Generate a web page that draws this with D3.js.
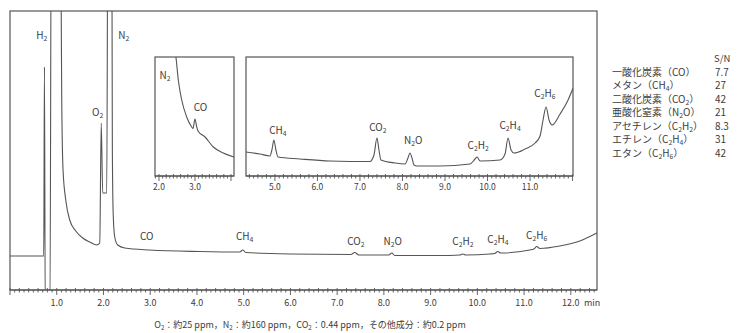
<!DOCTYPE html>
<html><head><meta charset="utf-8">
<script src="https://cdn.jsdelivr.net/npm/d3@7"></script>
<style>
html,body{margin:0;padding:0;background:#fff;}
svg{display:block;font-family:"Noto Sans CJK JP","Noto Sans",sans-serif;}
</style></head><body>
<svg id="chart" width="739" height="333"></svg>
<script>
// ---- Full chromatogram (retention time in min, detector signal in arbitrary units) ----
const mainTime = [0, 0.722, 0.737, 0.754, 0.855, 0.885, 1.075, 1.096, 1.107, 1.135, 1.193, 1.278, 1.407, 1.556, 1.706, 1.856,
  1.92, 1.952, 1.984, 2.07, 2.095, 2.15, 2.177, 2.19, 2.209, 2.241, 2.305, 2.455, 2.99, 4.06, 4.916, 4.98, 5.045, 5.986,
  7.292, 7.377, 7.463, 8.105, 8.169, 8.233, 9.196, 9.624, 9.688, 9.752, 10.266, 10.373, 10.437, 10.501, 11.122, 11.208,
  11.272, 11.336, 11.764, 12.192, 12.556];
const mainSignal = [34, 34, 223, -20, -20, 400, 400, 279, 190, 120, 90, 70, 59, 52, 48, 45,
  47, 167, 97, 97, 400, 400, 400, 140, 75, 53, 45, 42, 40, 38.5, 38, 40, 37.5, 36,
  35.5, 37.5, 35, 35, 37, 34.5, 34.5, 35, 36, 35, 36, 36.5, 38.5, 37, 40, 41,
  43.5, 41.5, 44, 49, 57];

// ---- Expanded view 1: N2 tail and CO ----
const zoom1Time = [2.42, 2.47, 2.536, 2.631, 2.769, 2.908, 2.944, 3.0, 3.042, 3.083, 3.278, 3.508, 3.786, 4.083];
const zoom1Signal = [130, 119, 96, 76, 59, 49, 47.5, 57, 50, 45, 39, 29, 23, 19];

// ---- Expanded view 2: CH4 to C2H6 ----
const zoom2Time = [4.318, 4.647, 4.882, 4.929, 4.976, 5.024, 5.071, 5.588, 6.294, 7.235, 7.329, 7.4, 7.447, 7.494, 7.824,
  8.059, 8.129, 8.176, 8.224, 8.271, 8.341, 8.882, 9.588, 9.706, 9.753, 9.824, 10.294, 10.412, 10.482, 10.553, 10.624,
  10.882, 11.118, 11.235, 11.306, 11.376, 11.447, 11.518, 11.706, 11.894, 12.012];
const zoom2Signal = [24, 22, 20, 26, 36, 26, 19, 17, 15, 14.5, 21, 38, 26, 16, 13,
  12, 18, 23, 18, 11, 10, 10, 12, 17, 19, 15, 16, 22, 38, 26, 23,
  27, 33, 40, 56, 69, 56, 51, 62, 76, 88];

// ---- Peak annotations (time, signal level of the label baseline) ----
const mainPeakNames = ["H_2", "O_2", "N_2", "CO", "CH_4", "CO_2", "N_2O", "C_2H_2", "C_2H_4", "C_2H_6"];
const mainPeakTimes = [0.68, 1.877, 2.434, 2.926, 5.02, 7.4, 8.19, 9.69, 10.44, 11.27];
const mainPeakLevels = [251, 174, 251, 50, 50, 45, 45, 45, 47, 51];

const zoom1PeakNames = ["N_2", "CO"];
const zoom1PeakTimes = [2.167, 3.15];
const zoom1PeakLevels = [97, 65];

const zoom2PeakNames = ["CH_4", "CO_2", "N_2O", "C_2H_2", "C_2H_4", "C_2H_6"];
const zoom2PeakTimes = [5.07, 7.42, 8.25, 9.78, 10.53, 11.35];
const zoom2PeakLevels = [42, 45, 32, 27, 47, 79];

// ---- Axis ticks ----
const mainTicks = [1, 2, 3, 4, 5, 6, 7, 8, 9, 10, 11, 12];
const zoom1Ticks = [2, 3];
const zoom2Ticks = [5, 6, 7, 8, 9, 10, 11];

// ---- S/N table ----
const snCompounds = ["一酸化炭素（CO）", "メタン（CH_4）", "二酸化炭素（CO_2）", "亜酸化窒素（N_2O）",
  "アセチレン（C_2H_2）", "エチレン（C_2H_4）", "エタン（C_2H_6）"];
const snValues = ["7.7", "27", "42", "21", "8.3", "31", "42"];
const footnote = "O_2：約25 ppm，N_2：約160 ppm，CO_2：0.44 ppm，その他成分：約0.2 ppm";

const INK = "#3c3c3c";
const LINE = "#555";

const svg = d3.select("#chart");

// Writes a string into a <text>, turning "_digits" into subscripts.
function rich(text, str, fs) {
  const parts = str.split(/(_\d+)/).filter(s => s.length);
  let shifted = false;
  parts.forEach(p => {
    if (p.startsWith("_")) {
      text.append("tspan").attr("font-size", fs * 0.68).attr("dy", fs * 0.22).text(p.slice(1));
      shifted = true;
    } else {
      const t = text.append("tspan").text(p);
      if (shifted) { t.attr("dy", -fs * 0.22); shifted = false; }
    }
  });
}

function drawTrace(g, x, y, times, values, clipId, box) {
  g.append("clipPath").attr("id", clipId).append("rect")
    .attr("x", box[0]).attr("y", box[1]).attr("width", box[2] - box[0]).attr("height", box[3] - box[1]);
  const pts = times.map((t, i) => [t, values[i]]);
  g.append("path").datum(pts)
    .attr("clip-path", `url(#${clipId})`)
    .attr("fill", "none").attr("stroke", LINE).attr("stroke-width", 1.1).attr("stroke-linejoin", "round")
    .attr("d", d3.line().x(d => x(d[0])).y(d => y(d[1])).curve(d3.curveMonotoneX));
}

function drawTimeAxis(g, x, yPix, majors, labelSize, labelDy) {
  const [d0, d1] = x.domain();
  const minor = d3.range(Math.ceil(d0 * 10), Math.floor(d1 * 10) + 1).map(v => v / 10);
  const axis = g.append("g").attr("transform", `translate(0,${yPix})`);
  axis.append("line").attr("x1", x.range()[0]).attr("x2", x.range()[1])
    .attr("stroke", LINE).attr("stroke-width", 1.1);
  axis.selectAll("line.minor").data(minor).join("line").attr("class", "minor")
    .attr("x1", d => x(d)).attr("x2", d => x(d))
    .attr("y1", d => (Math.round(d * 10) % 2 === 0 ? -2 : 0))
    .attr("y2", d => (Math.round(d * 10) % 10 === 0 ? 5 : 2.5))
    .attr("stroke", LINE).attr("stroke-width", 0.9);
  axis.selectAll("text").data(majors).join("text")
    .attr("x", d => x(d)).attr("y", labelDy).attr("text-anchor", "middle")
    .attr("font-size", labelSize).attr("fill", INK)
    .text(d => d.toFixed(1));
}

function drawLabels(g, x, y, names, times, levels, fs) {
  names.forEach((n, i) => {
    const t = g.append("text").attr("x", x(times[i])).attr("y", y(levels[i]))
      .attr("text-anchor", "middle").attr("font-size", fs).attr("fill", INK);
    rich(t, n, fs);
  });
}

// ---- Main chromatogram ----
const mx = d3.scaleLinear().domain([0, 12.56]).range([10, 597]);
const my = d3.scaleLinear().domain([0, 280]).range([290, 10]);
const mainG = svg.append("g");
mainG.append("rect").attr("x", 10).attr("y", 11).attr("width", 587).attr("height", 279)
  .attr("fill", "none").attr("stroke", LINE).attr("stroke-width", 1.2);
drawTrace(mainG, mx, my, mainTime, mainSignal, "clipMain", [10, 11, 597, 290]);
drawTimeAxis(mainG, mx, 290, mainTicks, 9, 16);
mainG.append("text").attr("x", 584).attr("y", 306).attr("font-size", 9).attr("fill", INK).text("min");
drawLabels(mainG, mx, my, mainPeakNames, mainPeakTimes, mainPeakLevels, 10);

// ---- Expanded view 1 ----
const z1x = d3.scaleLinear().domain([1.889, 4.083]).range([155, 234]);
const zy = d3.scaleLinear().domain([0, 119]).range([176, 57]);
const z1 = svg.append("g");
z1.append("rect").attr("x", 155).attr("y", 57).attr("width", 79).attr("height", 119)
  .attr("fill", "#fff").attr("stroke", LINE).attr("stroke-width", 1.2);
drawTrace(z1, z1x, zy, zoom1Time, zoom1Signal, "clipZ1", [155, 57, 234, 176]);
drawTimeAxis(z1, z1x, 176, zoom1Ticks, 8.5, 14);
drawLabels(z1, z1x, zy, zoom1PeakNames, zoom1PeakTimes, zoom1PeakLevels, 10);

// ---- Expanded view 2 ----
const z2x = d3.scaleLinear().domain([4.32, 12.01]).range([246, 573]);
const z2 = svg.append("g");
z2.append("rect").attr("x", 246).attr("y", 57).attr("width", 327).attr("height", 119)
  .attr("fill", "#fff").attr("stroke", LINE).attr("stroke-width", 1.2);
drawTrace(z2, z2x, zy, zoom2Time, zoom2Signal, "clipZ2", [246, 57, 573, 176]);
drawTimeAxis(z2, z2x, 176, zoom2Ticks, 8.5, 14);
drawLabels(z2, z2x, zy, zoom2PeakNames, zoom2PeakTimes, zoom2PeakLevels, 10);

// ---- S/N table ----
const tbl = svg.append("g");
tbl.append("text").attr("x", 714).attr("y", 62).attr("font-size", 9.5).attr("fill", INK).text("S/N");
snCompounds.forEach((c, i) => {
  const yy = 75.5 + i * 13.5;
  const t = tbl.append("text").attr("x", 612).attr("y", yy).attr("font-size", 10).attr("fill", INK);
  rich(t, c, 10);
  tbl.append("text").attr("x", 715).attr("y", yy).attr("font-size", 10).attr("fill", INK).text(snValues[i]);
});

// ---- Footnote ----
const fn = svg.append("text").attr("x", 310).attr("y", 328).attr("text-anchor", "middle")
  .attr("font-size", 9).attr("fill", INK);
rich(fn, footnote, 9);
</script>
</body></html>
